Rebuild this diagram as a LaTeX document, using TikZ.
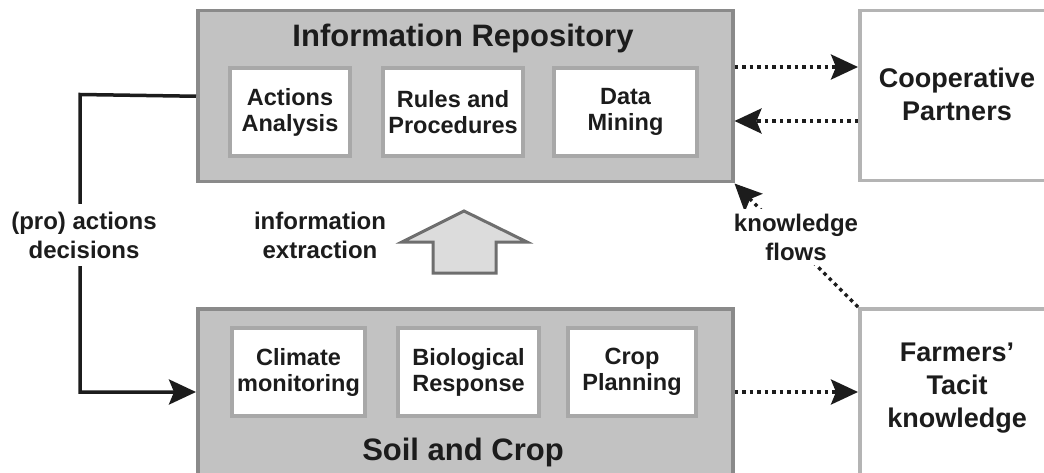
\documentclass[tikz,border=0pt]{standalone}
\usepackage{fontspec}
\setmainfont{Liberation Sans}
\usetikzlibrary{arrows.meta}
\definecolor{boxgray}{HTML}{C2C2C2}
\definecolor{boxborder}{HTML}{8A8A8A}
\definecolor{subborder}{HTML}{A8A8A8}
\definecolor{extborder}{HTML}{B4B4B4}
\definecolor{arrowfill}{HTML}{DCDCDC}
\definecolor{arrowdraw}{HTML}{6E6E6E}
\definecolor{ink}{HTML}{1C1C1C}
\begin{document}
\begin{tikzpicture}[x=1pt,y=-1pt,
  bigbox/.style={draw=boxborder, fill=boxgray, line width=3.5pt, inner sep=0pt, anchor=north west},
  subbox/.style={draw=subborder, fill=white, line width=3.5pt, align=center, inner sep=0pt,
    text=ink, font=\fontsize{23.5}{26}\selectfont\bfseries},
  extbox/.style={draw=extborder, fill=white, line width=3.5pt, inner sep=0pt, anchor=north west},
  bigtitle/.style={text=ink, font=\fontsize{31}{34}\selectfont\bfseries, anchor=base},
  exttext/.style={text=ink, align=center, font=\fontsize{27}{33}\selectfont\bfseries},
  lbl/.style={text=ink, align=center, fill=white, inner xsep=3pt, inner ysep=8pt,
    font=\fontsize{24}{29}\selectfont\bfseries},
  tip/.style={-{Stealth[length=27pt,width=25pt,inset=5pt]}},
  flow/.style={tip, draw=ink, line width=3.5pt, dash pattern=on 3.5pt off 4pt},
  solidflow/.style={tip, draw=ink, line width=3.5pt, line join=miter}
]
\clip (0,0) rectangle (1044,473);
\fill[white] (0,0) rectangle (1044,473);

% main boxes
\node[bigbox, minimum width=535pt, minimum height=171pt] (IR) at (196,9) {};
\node[bigbox, minimum width=535pt, minimum height=190pt] (SC) at (196,307) {};
\node[bigtitle] (IRt) at (463,47) {Information Repository};
\node[bigtitle] (SCt) at (463,460) {Soil and Crop};

% sub boxes top
\node[subbox, minimum width=120pt, minimum height=88pt] (AA) at (290,112) {Actions\\Analysis};
\node[subbox, minimum width=140pt, minimum height=88pt] (RP) at (453,112) {Rules and\\Procedures};
\node[subbox, minimum width=143pt, minimum height=88pt] (DM) at (625.5,112) {Data\\Mining};
% sub boxes bottom
\node[subbox, minimum width=133pt, minimum height=88pt] (CM) at (298.5,372) {Climate\\monitoring};
\node[subbox, minimum width=141pt, minimum height=88pt] (BR) at (468.5,372) {Biological\\Response};
\node[subbox, minimum width=128pt, minimum height=88pt] (CPl) at (632,372) {Crop\\Planning};

% external boxes
\node[extbox, minimum width=210pt, minimum height=170pt] (CP) at (858,9) {};
\node[extbox, minimum width=210pt, minimum height=190pt] (FT) at (858,307) {};
\node[exttext] (CPt) at (957,94) {Cooperative\\Partners};
\node[exttext] (FTt) at (957,388) {Farmers'\\Tacit\\knowledge};

% dotted flows
\draw[flow] (IR.east |- 0,67) -- (CP.west |- 0,67);
\draw[flow] (CP.west |- 0,121) -- (IR.east |- 0,121);
\draw[flow] (SC.east |- 0,392) -- (FT.west |- 0,392);
\draw[flow] (FT.north west) -- (IR.south east);
\node[lbl, inner ysep=5pt] (KF) at (796,237) {knowledge\\flows};

% decisions connector
\coordinate (L1) at (80,94.5);
\coordinate (L2) at (80,392);
\draw[solidflow] (IR.west) -- (L1) -- (L2) -- (SC.west |- 0,392);
\node[lbl] (PA) at (84,235) {(pro) actions\\decisions};

% information extraction
\draw[draw=arrowdraw, fill=arrowfill, line width=3pt, line join=miter]
  (433,273) -- (433,242) -- (402,242) -- (464,211) -- (527,242) -- (496,242) -- (496,273) -- cycle;
\node[lbl, fill=none] (IE) at (320,235) {information\\extraction};
\end{tikzpicture}
\end{document}
